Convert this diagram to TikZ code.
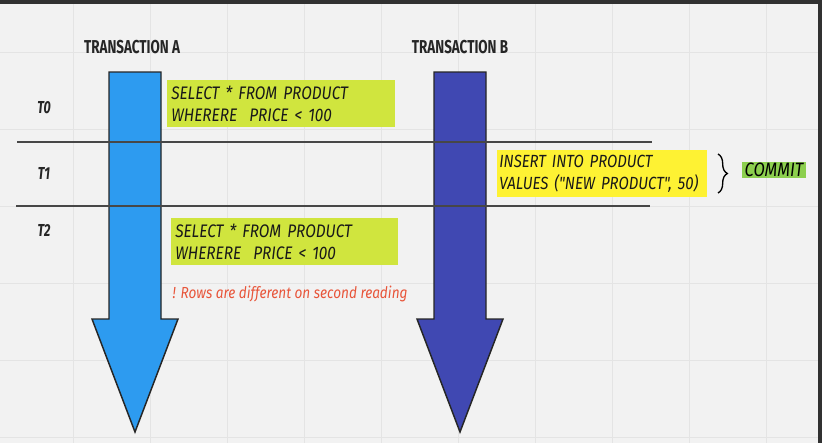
\documentclass[tikz,border=0pt]{standalone}
\usepackage{fontspec}
\setmainfont{Fira Sans}
\newfontfamily\handfont{Fira Sans}[FakeStretch=0.85]
\newfontfamily\titlefont{Fira Sans}[FakeStretch=0.72]
\usetikzlibrary{positioning,decorations.pathreplacing}
\definecolor{paper}{HTML}{F2F2F2}
\definecolor{gridgray}{HTML}{E4E4E4}
\definecolor{frame}{HTML}{313131}
\definecolor{txblue}{RGB}{45,155,240}
\definecolor{txindigo}{RGB}{64,72,178}
\definecolor{limegreen}{RGB}{208,229,62}
\definecolor{stickyyellow}{RGB}{254,242,51}
\definecolor{commitgreen}{RGB}{140,207,78}
\definecolor{notered}{RGB}{232,85,58}
\tikzset{
	sqlbox/.style={rectangle, anchor=north west, inner xsep=3pt, inner ysep=0pt,
		minimum height=35.25pt, align=left, text=black!90,
		font=\handfont\itshape\fontsize{13.6}{17}\selectfont},
	txtitle/.style={font=\titlefont\bfseries\fontsize{14}{16}\selectfont, text=black!85},
	slotlabel/.style={font=\titlefont\bfseries\itshape\fontsize{13}{14}\selectfont, text=black!85},
	timearrow/.style={draw=black!85, line width=1.1pt, line join=miter},
	rowline/.style={draw=black!72, line width=1.1pt},
	gridline/.style={draw=gridgray, line width=0.6pt}
}
\begin{document}
\begin{tikzpicture}[x=0.75pt, y=-0.75pt]
	\useasboundingbox (0,0) rectangle (822,443);
	\fill[paper] (0,0) rectangle (822,443);
	% background grid
	\foreach \gx in {73,150,...,770}
		\draw[gridline] (\gx,0) -- (\gx,443);
	\foreach \gy in {52,129,...,440}
		\draw[gridline] (0,\gy) -- (822,\gy);
	\fill[frame] (0,0) rectangle (822,4);
	\fill[frame] (818,0) rectangle (822,443);
	% time lines of the two transactions
	\draw[timearrow, fill=txblue] (109,72) -- (161,72) -- (161,319) -- (178,319)
		-- (135,432) -- (92,319) -- (109,319) -- cycle;
	\draw[timearrow, fill=txindigo] (434,72) -- (486,72) -- (486,319) -- (503,319)
		-- (460,432) -- (417,319) -- (434,319) -- cycle;
	\draw[rowline] (17,142) -- (652,142);
	\draw[rowline] (16,206) -- (650,206);
	% titles and time slots
	\node[txtitle] (titleA) at (132,47) {TRANSACTION A};
	\node[txtitle] (titleB) at (460,47) {TRANSACTION B};
	\node[slotlabel] (t0) at (44,108) {T0};
	\node[slotlabel] (t1) at (44,173) {T1};
	\node[slotlabel] (t2) at (44,230) {T2};
	% statements
	\node[sqlbox, fill=limegreen, minimum width=171pt, text width=165pt] (readA)
		at (167,80) {SELECT * FROM PRODUCT\\WHERERE~ PRICE < 100};
	\node[sqlbox, fill=limegreen, minimum width=170.25pt, text width=164.25pt] (rereadA)
		at (171,218) {SELECT * FROM PRODUCT\\WHERERE~ PRICE < 100};
	\node[sqlbox, fill=stickyyellow, minimum width=157.5pt, text width=154.5pt, inner xsep=1.5pt,
		font=\handfont\itshape\fontsize{13.2}{17}\selectfont] (insertB)
		at (497,150) {INSERT INTO PRODUCT\\VALUES ("NEW PRODUCT", 50)};
	\node[anchor=west, text=notered, font=\handfont\itshape\fontsize{12}{14}\selectfont] (note)
		at (168,294) {! Rows are different on second reading};
	\coordinate (braceTop) at (718,154);
	\coordinate (braceBot) at (718,193);
	\draw[line width=1pt, decorate, decoration={brace, amplitude=7pt}] (braceTop) -- (braceBot);
	\node[fill=commitgreen, minimum width=48pt, minimum height=11.5pt, inner sep=0.5pt,
		font=\handfont\itshape\fontsize{14.5}{15}\selectfont] (commit) at (774,170) {COMMIT};
\end{tikzpicture}
\end{document}
